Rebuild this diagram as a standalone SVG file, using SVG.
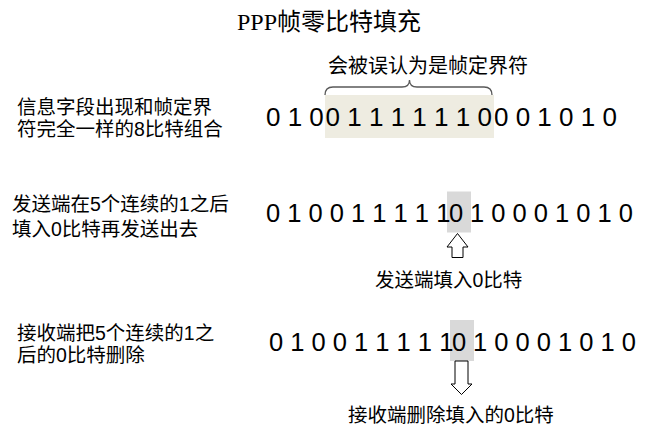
<svg xmlns="http://www.w3.org/2000/svg" width="645" height="435" viewBox="0 0 645 435">
<style>
.t{font-family:"Liberation Sans","Noto Sans CJK SC",sans-serif;fill:#000}
.lbl{font-size:19.5px}
.bits1{font-size:26px}
.bits{font-size:25.5px}
.title{font-family:"Liberation Serif","Noto Sans CJK SC",serif;font-size:24px;fill:#000}
.arr{fill:#fff;stroke:#000;stroke-width:1}
</style>
<rect width="645" height="435" fill="#fff"/>
<g id="title"><text class="title" x="329" y="30" text-anchor="middle">PPP帧零比特填充</text></g>

<g id="row1">
<text class="t lbl" x="17" y="114">信息字段出现和帧定界</text>
<text class="t lbl" x="17" y="136">符完全一样的8比特组合</text>
<rect x="325" y="95" width="169" height="43" fill="#EEECE1"/>
<text class="t bits1" x="266" y="125.5">0 1 0</text>
<text class="t bits1" x="325.6" y="125.5">0 1 1 1 1 1 1 0</text>
<text class="t bits1" x="494" y="125.5">0 0 1 0 1 0</text>
<text class="t" style="font-size:20px" x="328" y="73">会被误认为是帧定界符</text>
</g>

<g id="row2">
<text class="t lbl" x="12" y="211">发送端在5个连续的1之后</text>
<text class="t lbl" x="12" y="236">填入0比特再发送出去</text>
<rect x="447" y="191.5" width="24" height="41" fill="#D9D9D9"/>
<text class="t bits" x="266" y="222">0 1 0 0 1 1 1 1 1</text>
<text class="t bits" x="449" y="222">0</text>
<text class="t bits" x="470" y="222">1 0 0 0 1 0 1 0</text>
<text class="t lbl" x="375" y="287">发送端填入0比特</text>
</g>

<g id="row3">
<text class="t lbl" x="17" y="340">接收端把5个连续的1之</text>
<text class="t lbl" x="17" y="362">后的0比特删除</text>
<rect x="450" y="320" width="24" height="41" fill="#D9D9D9"/>
<text class="t bits" x="269" y="351">0 1 0 0 1 1 1 1 1</text>
<text class="t bits" x="452" y="351">0</text>
<text class="t bits" x="473" y="351">1 0 0 0 1 0 1 0</text>
<text class="t lbl" x="348" y="422">接收端删除填入的0比特</text>
</g>

<g id="connectors">
<path d="M325,95 Q325,87 333,87 L402,87 Q409.5,87 409.5,80 Q409.5,87 417,87 L484,87 Q492,87 492,95" fill="none" stroke="#595959" stroke-width="1.3"/>
<polygon class="arr" points="457.5,233.5 447,247 452,247 452,257.5 463,257.5 463,247 468,247"/>
<polygon class="arr" points="455,361 468,361 468,384 472,384 461.5,394.5 451,384 455,384"/>
</g>
</svg>
